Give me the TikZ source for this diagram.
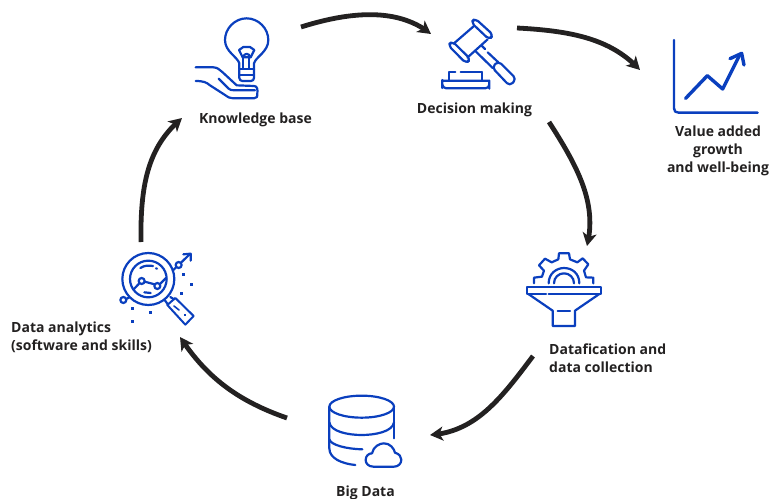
\documentclass[tikz,border=0pt]{standalone}
\usepackage{fontspec}
\setmainfont{Open Sans}
\usetikzlibrary{arrows.meta,bending}
\definecolor{iconblue}{HTML}{0A3FBE}
\definecolor{inkdark}{HTML}{232121}
\tikzset{
  icon/.style={draw=iconblue,line width=2.2pt,line cap=round,line join=round,fill=none},
  dotm/.style={fill=iconblue,draw=none},
  lab/.style={text=inkdark,font=\bfseries\fontsize{14}{18}\selectfont,inner sep=0pt},
  flow/.style={draw=inkdark,line width=4.8pt,-{Stealth[length=13pt,width=14pt,inset=3.5pt,flex=0.8]}},
}
\begin{document}
\begin{tikzpicture}[x=1pt,y=-1pt]
\useasboundingbox (0,0) rectangle (771,498);
% labels
\node[lab,anchor=center] (kb) at (255.5,119.5) {Knowledge base};
\node[lab,anchor=center] (dm) at (474.5,109.5) {Decision making};
\node[lab,align=center,anchor=center] (va) at (718,150.5) {Value added\\growth\\and well-being};
\node[lab,align=left,anchor=west] (df) at (549,358) {Datafication and\\data collection};
\node[lab,anchor=center] (bd) at (365.5,492.5) {Big Data};
\node[lab,align=left,anchor=west] (da) at (11,337.5) {Data analytics\\(software and skills)};
% connector ends
\coordinate (a1s) at (301,27); \coordinate (a1e) at (431,34);
\coordinate (a2s) at (517,28); \coordinate (a2e) at (640,70);
\coordinate (a3s) at (549,122); \coordinate (a3e) at (587,246);
\coordinate (a4s) at (533,356); \coordinate (a4e) at (430,435);
\coordinate (a5s) at (287,418); \coordinate (a5e) at (180,337);
\coordinate (a6s) at (141,242); \coordinate (a6e) at (182,118);
\draw[flow] (a1s) .. controls (355,10) and (400,9) .. (a1e);
\draw[flow] (a2s) .. controls (575,31) and (612,40) .. (a2e);
\draw[flow] (a3s) .. controls (580,170) and (597,205) .. (a3e);
\draw[flow] (a4s) .. controls (500,400) and (475,432) .. (a4e);
\draw[flow] (a5s) .. controls (235,400) and (205,375) .. (a5e);
\draw[flow] (a6s) .. controls (140,180) and (150,145) .. (a6e);
% bulb + hand
\begin{scope}[shift={(180,10)},x=0.3333pt,y=-0.3333pt]
\draw[icon] (178,178) -- (178,160) .. controls (172,140) and (135,125) .. (135,90)
  .. controls (135,55) and (165,25) .. (200,25) .. controls (235,25) and (265,55) .. (265,90)
  .. controls (265,125) and (228,140) .. (222,160) -- (222,178);
\draw[icon] (180,178) -- (220,178) (178,195) -- (222,195);
\draw[icon,rounded corners=3pt] (178,178) -- (178,213) -- (222,213) -- (222,178);
\draw[icon] (177,120) -- (190,111) -- (210,111) -- (223,120) -- (212,142) -- (188,142) -- cycle;
\draw[icon] (190,175) -- (190,142) (208,175) -- (208,142);
\draw[icon] (188,142) .. controls (195,128) and (205,128) .. (212,142);
\draw[icon] (47,172) -- (100,172) .. controls (112,172) and (120,180) .. (128,187) -- (170,226)
  -- (222,228) .. controls (233,228) and (233,240) .. (232,250) .. controls (233,260) and (230,265) .. (222,265)
  -- (160,265) .. controls (150,265) and (145,262) .. (135,255) -- (90,226) .. controls (80,217) and (70,213) .. (47,213);
\draw[icon] (116,206) -- (146,236) .. controls (150,240) and (155,241) .. (165,241) -- (225,241);
\end{scope}
% gavel
\begin{scope}[shift={(410,10)},x=0.3333pt,y=-0.3333pt]
\draw[icon,rounded corners=4pt] (183,37) -- (195,25) -- (250,75) -- (238,89) -- cycle;
\draw[icon,rounded corners=4pt] (114,105) -- (127,94) -- (182,148) -- (168,160) -- cycle;
\draw[icon] (192,48) -- (132,100) (233,88) -- (172,143);
\draw[icon] (197,124) -- (248,174) (215,107) -- (225,117) (233,127) -- (264,156);
\draw[icon,rounded corners=4pt] (246,172) -- (265,153) -- (319,207) -- (299,228) -- cycle;
\draw[icon,rounded corners=4pt] (97,235) -- (97,222) .. controls (97,214) and (102,212) .. (110,212) -- (225,212) .. controls (235,212) and (238,216) .. (238,224) -- (238,235) -- cycle;
\draw[icon] (118,212) -- (118,186) -- (136,186) (152,186) -- (215,186) (215,186) -- (215,212);
\end{scope}
% chart
\begin{scope}[shift={(620,20)},x=0.3333pt,y=-0.3333pt]
\draw[icon,line width=2.4pt] (162,60) -- (162,265) .. controls (162,274) and (167,278) .. (176,278) -- (413,278);
\draw[icon,line width=3.4pt] (197,235) -- (262,167) -- (308,207) -- (360,103);
\draw[icon,line width=3.4pt] (330,116) -- (365,100) -- (372,135);
\end{scope}
% funnel + gear
\begin{scope}[shift={(510,240)},x=0.3333pt,y=-0.3333pt]
\draw[icon] (72,130) -- (72,113) -- (96,110) -- (102,92) -- (87,76) -- (105,56) -- (125,67) -- (145,58) -- (147,40) -- (177,40) -- (180,58) -- (202,67) -- (218,55) -- (235,73) -- (222,92) -- (228,112) -- (250,113) -- (250,130);
\draw[icon] (116,130) .. controls (116,100) and (140,84) .. (162,84) .. controls (186,84) and (208,100) .. (208,130);
\draw[icon] (132,130) .. controls (132,112) and (146,100) .. (162,100) .. controls (178,100) and (192,112) .. (192,130);
\draw[icon] (108,162) -- (50,162) -- (50,142) -- (272,142) -- (272,162) -- (116,162);
\draw[icon] (55,162) -- (128,212) -- (128,258) -- (195,258) -- (195,212) -- (268,162);
\draw[icon] (143,214) -- (180,214);
\end{scope}
% database + cloud
\begin{scope}[shift={(310,385)},x=0.3333pt,y=-0.3333pt]
\draw[icon] (155,65) ellipse [x radius=97pt*0.3333,y radius=33pt*0.3333];
\draw[icon] (58,65) -- (58,190) .. controls (58,220) and (95,236) .. (136,240);
\draw[icon] (252,65) -- (252,160);
\draw[icon] (58,112) .. controls (62,140) and (115,150) .. (155,150) .. controls (195,150) and (248,140) .. (252,112);
\draw[icon] (58,163) .. controls (62,180) and (110,192) .. (157,193);
\draw[icon] (190,245) .. controls (175,245) and (167,235) .. (167,225) .. controls (167,212) and (177,205) .. (186,205)
  .. controls (190,185) and (208,175) .. (222,175) .. controls (240,175) and (252,190) .. (255,203)
  .. controls (268,207) and (274,215) .. (274,224) .. controls (274,236) and (265,245) .. (252,245) -- cycle;
\end{scope}
% magnifier
\begin{scope}[shift={(105,240)},x=0.3333pt,y=-0.3333pt]
\draw[icon] (130,117) circle [radius=78pt*0.3333];
\draw[icon] (130,117) circle [radius=55pt*0.3333];
\draw[icon] (106,84) .. controls (118,76) and (130,76) .. (144,78);
\draw[icon] (153,85) -- (156,86);
\draw[icon] (118,157) -- (137,159);
\draw[icon] (86,148) -- (102,131);
\draw[icon] (110,123) circle [radius=9pt*0.3333];
\draw[icon] (119,125) -- (149,133);
\draw[icon] (157,138) circle [radius=9pt*0.3333];
\draw[icon] (165,132) -- (183,114);
\draw[icon] (203,92) -- (213,82);
\draw[icon] (221,75) circle [radius=9pt*0.3333];
\draw[icon] (228,68) -- (255,42);
\draw[icon] (235,43) -- (257,41) -- (257,62);
\draw[icon] (55,180) circle [radius=9pt*0.3333];
\draw[icon] (64,177) -- (73,172);
\draw[icon] (179,180) -- (190,195) (196,171) -- (207,178);
\draw[icon,line width=2pt] (187,195) -- (211,174) -- (266,228) -- (241,254) -- cycle;
\draw[icon,line width=1.6pt] (207,198) -- (222,210);
\foreach \p in {(235,103),(259,133),(229,160),(82,205),(136,217),(82,244)}
  \fill[dotm] \p ++(-4.5,-4.5) rectangle ++(9,9);
\fill[dotm] (241,224) ++(-3,-3) rectangle ++(6,6);
\end{scope}
\end{tikzpicture}
\end{document}
